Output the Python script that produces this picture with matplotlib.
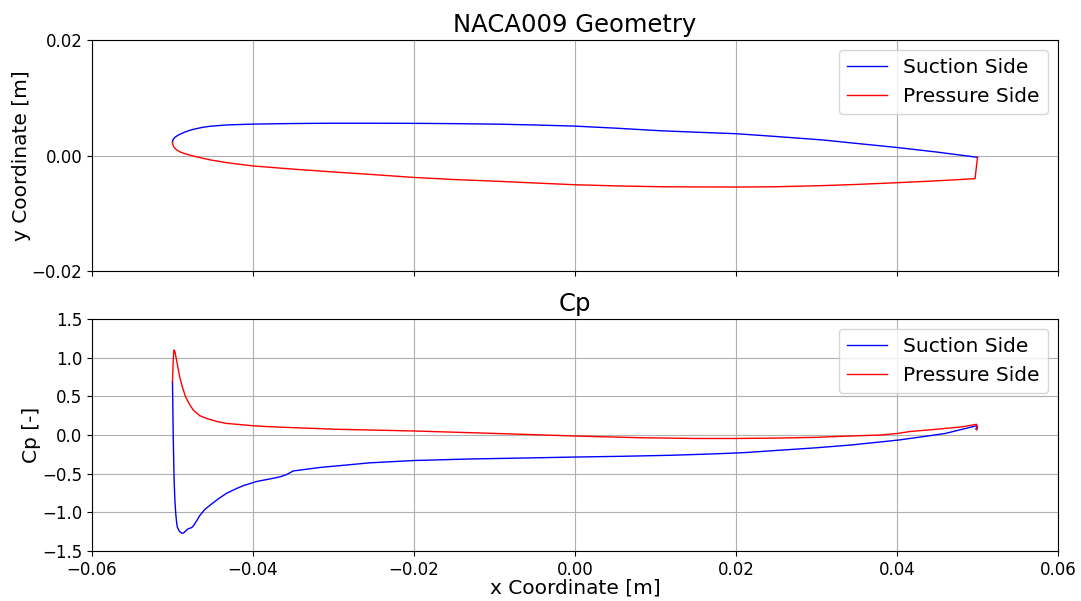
import matplotlib
matplotlib.use("Agg")
import matplotlib.pyplot as plt

# airfoil geometry (x, y in m)
x_suction = [-0.0500, -0.04998, -0.0499, -0.0497, -0.0494, -0.0490, -0.0485, -0.0480,
             -0.0474, -0.0463, -0.0453, -0.0433, -0.0400, -0.0350, -0.0304, -0.0250,
             -0.0201, -0.0150, -0.0093, -0.0050, 0.0000, 0.0050, 0.0106, 0.0150,
             0.0201, 0.0250, 0.0308, 0.0350, 0.0400, 0.0450, 0.0500]
y_suction = [0.00229, 0.00255, 0.00285, 0.00315, 0.00345, 0.00375, 0.00405, 0.00430,
             0.00455, 0.00488, 0.00508, 0.00530, 0.00545, 0.00555, 0.00560, 0.00560,
             0.00558, 0.00553, 0.00543, 0.00530, 0.00510, 0.00475, 0.00430, 0.00405,
             0.00378, 0.00330, 0.00270, 0.00210, 0.00140, 0.00060, -0.00030]

x_pressure = [-0.0500, -0.04995, -0.0499, -0.0497, -0.0494, -0.0490, -0.0485, -0.0479,
              -0.0472, -0.0463, -0.0453, -0.0433, -0.0400, -0.0350, -0.0304, -0.0250,
              -0.0201, -0.0150, -0.0093, -0.0050, 0.0000, 0.0050, 0.0106, 0.0150,
              0.0201, 0.0250, 0.0308, 0.0350, 0.0400, 0.0450, 0.0497, 0.0500]
y_pressure = [0.00229, 0.00195, 0.00165, 0.00125, 0.00090, 0.00060, 0.00035, 0.00010,
              -0.00015, -0.00045, -0.00075, -0.00122, -0.00180, -0.00235, -0.00280, -0.00330,
              -0.00378, -0.00415, -0.00447, -0.00475, -0.00505, -0.00525, -0.00540, -0.00543,
              -0.00545, -0.00540, -0.00520, -0.00500, -0.00470, -0.00437, -0.00400, -0.00030]

# pressure coefficient
xcp_suction = [-0.0500, -0.04995, -0.0499, -0.0498, -0.0497, -0.0496, -0.0495, -0.0494,
               -0.0492, -0.0490, -0.0488, -0.0486, -0.0484, -0.0482, -0.0480, -0.0478,
               -0.0476, -0.0474, -0.0470, -0.0466, -0.0460, -0.0453, -0.0443, -0.0433,
               -0.0420, -0.0412, -0.0395, -0.0375, -0.0366, -0.0358, -0.0350, -0.0317,
               -0.0255, -0.0200, -0.0130, -0.0060, 0.0000, 0.0060, 0.0120, 0.0170,
               0.0210, 0.0250, 0.0300, 0.0342, 0.0370, 0.0402, 0.0430, 0.0460,
               0.0499, 0.0500, 0.0498]
cp_suction = [0.69, 0.30, -0.065, -0.58, -0.85, -1.01, -1.12, -1.19,
              -1.235, -1.26, -1.27, -1.265, -1.245, -1.225, -1.21, -1.205,
              -1.195, -1.175, -1.11, -1.04, -0.965, -0.905, -0.825, -0.755,
              -0.69, -0.655, -0.60, -0.56, -0.54, -0.51, -0.465, -0.42,
              -0.36, -0.33, -0.31, -0.297, -0.285, -0.275, -0.262, -0.245,
              -0.228, -0.20, -0.165, -0.13, -0.10, -0.065, -0.025, 0.02,
              0.12, 0.10, 0.08]

xcp_pressure = [-0.0500, -0.04995, -0.0499, -0.04985, -0.0498, -0.0497, -0.0495, -0.0493,
                -0.0491, -0.0488, -0.0484, -0.0479, -0.0474, -0.0466, -0.0458, -0.0445,
                -0.0433, -0.0400, -0.0379, -0.0350, -0.0296, -0.0200, -0.0089, 0.0000,
                0.0080, 0.0150, 0.0200, 0.0250, 0.0300, 0.0342, 0.0380, 0.0402,
                0.0416, 0.0450, 0.0480, 0.0499, 0.0500, 0.0499]
cp_pressure = [0.69, 0.85, 0.98, 1.07, 1.10, 1.08, 0.97, 0.86,
               0.75, 0.63, 0.50, 0.40, 0.32, 0.25, 0.215, 0.175,
               0.15, 0.12, 0.107, 0.095, 0.074, 0.052, 0.017, -0.013,
               -0.035, -0.045, -0.045, -0.040, -0.030, -0.013, 0.000, 0.022,
               0.045, 0.075, 0.105, 0.138, 0.09, 0.065]

fig = plt.figure(figsize=(10.81, 6.01), dpi=100)
ax1 = fig.add_axes([0.0851, 0.549, 0.8936, 0.3843])
ax2 = fig.add_axes([0.0851, 0.0832, 0.8936, 0.386], sharex=ax1)

ax1.plot(x_suction, y_suction, color="blue", lw=1.0, label="Suction Side")
ax1.plot(x_pressure, y_pressure, color="red", lw=1.0, label="Pressure Side")
ax1.set_xlim(-0.06, 0.06)
ax1.set_ylim(-0.02, 0.02)
ax1.set_yticks([-0.02, 0.0, 0.02])
ax1.set_title("NACA009 Geometry", fontsize=17.5)
ax1.set_ylabel("y Coordinate [m]", fontsize=14.5, labelpad=0.5)
ax1.tick_params(labelsize=12)
ax1.tick_params(labelbottom=False)
ax1.grid(True)
ax1.legend(loc="upper right", fontsize=14.5)

ax2.plot(xcp_suction, cp_suction, color="blue", lw=1.0, label="Suction Side")
ax2.plot(xcp_pressure, cp_pressure, color="red", lw=1.0, label="Pressure Side")
ax2.set_ylim(-1.5, 1.5)
ax2.set_title("Cp", fontsize=17.5)
ax2.set_ylabel("Cp [-]", fontsize=14.5, labelpad=0.5)
ax2.set_xlabel("x Coordinate [m]", fontsize=14.5, labelpad=0)
ax2.tick_params(labelsize=12)
ax2.grid(True)
ax2.legend(loc="upper right", fontsize=14.5)

fig.savefig("out.png", dpi=100)
